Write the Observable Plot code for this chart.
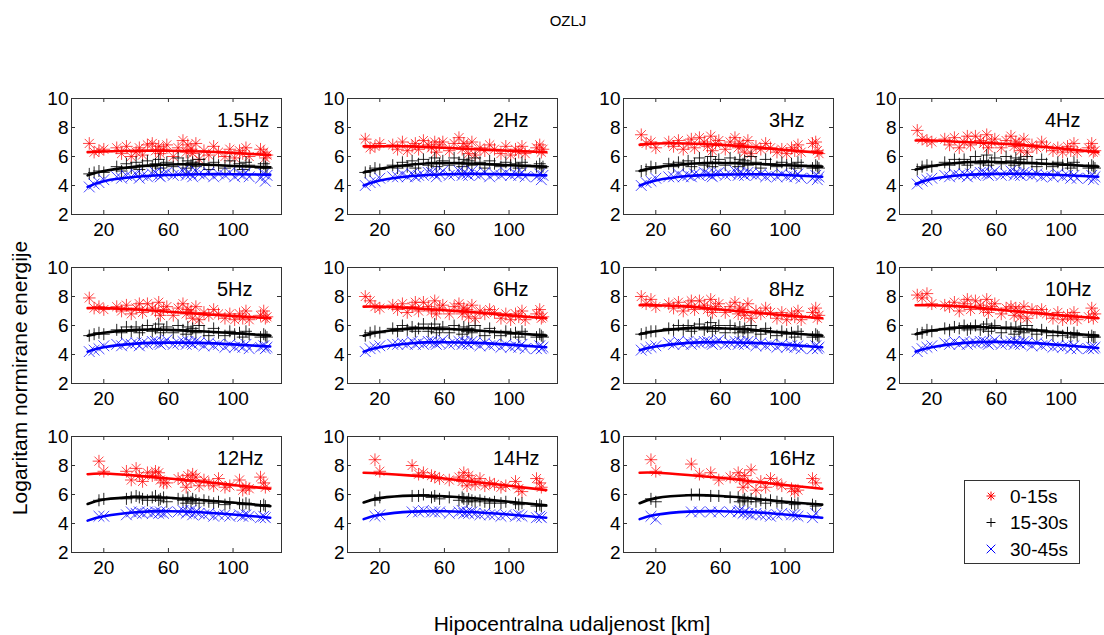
<!DOCTYPE html>
<html><head><meta charset="utf-8">
<script src="https://cdn.jsdelivr.net/npm/d3@7"></script>
<script src="https://cdn.jsdelivr.net/npm/@observablehq/plot@0.6"></script>
<style>
html,body{margin:0;padding:0;background:#fff;overflow:hidden}
#fig{position:relative;width:1104px;height:635px;overflow:hidden;font-family:Arial,"Liberation Sans",sans-serif;color:#000}
.abs{position:absolute;white-space:nowrap}
</style></head><body><div id="fig"></div>
<script>
const title = "OZLJ";
const xLabel = "Hipocentralna udaljenost [km]";
const yLabel = "Logaritam normirane energije";
const seriesNames = ["0-15s", "15-30s", "30-45s"];
const freqLabels = ["1.5Hz","2Hz","3Hz","4Hz","5Hz","6Hz","8Hz","10Hz","12Hz","14Hz","16Hz"];
const xTicks = [20, 60, 100];
const yTicks = [2, 4, 6, 8, 10];
// panel label anchor (data coordinates, left-aligned)
const labelX = 90, labelY = 8.5;

// hypocentral distances (km), shared by all panels
const dist = [11,14,17,20,28,31,34,37,40,42,44,47,50,52,54,55,57,59,63,66,69,71,72,74,75,77,79,82,85,88,91,95,98,101,104,106,108,110,117,119,120,121];

const red1p5 = [6.9,6.3,6.4,6.5,6.6,6.2,6.7,6.0,6.3,6.6,6.1,6.8,6.9,6.4,6.7,6.2,6.5,6.8,6.0,6.6,7.1,6.3,6.8,6.5,6.2,6.9,5.8,6.4,6.1,6.7,6.3,6.0,6.5,5.9,6.4,6.2,6.6,6.0,6.5,6.3,5.9,6.1];
const blk1p5 = [4.8,4.9,5.0,4.9,5.3,5.0,5.5,5.2,5.6,5.1,5.4,5.7,5.3,5.5,5.8,5.2,5.4,5.6,5.3,5.9,5.5,5.2,5.7,5.4,5.6,5.3,5.8,5.5,5.1,5.6,5.4,5.2,5.7,5.3,5.5,5.1,5.6,5.4,5.2,5.5,5.3,5.2];
const blu1p5 = [3.9,4.1,4.2,4.4,4.6,4.5,4.7,4.6,4.8,4.5,4.7,4.6,4.8,4.9,4.7,4.6,4.8,4.9,4.7,4.8,5.0,4.7,4.9,4.8,4.6,5.0,4.8,4.7,4.9,4.6,4.8,4.7,4.9,4.6,4.8,4.7,4.9,4.6,4.5,4.8,4.3,4.7];

const red2 = [7.2,6.6,6.7,6.9,6.8,6.5,7.0,6.4,6.7,6.9,6.5,7.1,6.8,6.6,7.0,6.3,6.8,7.0,6.4,6.9,7.3,6.5,6.9,6.7,6.2,7.0,6.1,6.6,6.4,6.8,6.5,6.2,6.7,6.1,6.5,6.3,6.7,6.2,6.6,6.8,6.3,6.5];
const blk2 = [4.9,5.0,5.2,5.1,5.4,5.2,5.6,5.3,5.7,5.2,5.5,5.8,5.4,5.6,5.9,5.3,5.5,5.7,5.4,5.9,5.6,5.3,5.8,5.5,5.7,5.4,5.9,5.6,5.2,5.7,5.5,5.3,5.6,5.4,5.5,5.2,5.6,5.4,5.3,5.5,5.2,5.3];
const blu2 = [4.0,4.2,4.3,4.5,4.6,4.6,4.8,4.6,4.8,4.6,4.7,4.7,4.9,4.9,4.8,4.6,4.8,5.0,4.7,4.8,5.0,4.7,4.9,4.8,4.7,5.0,4.8,4.7,4.9,4.6,4.8,4.7,4.9,4.7,4.8,4.7,4.9,4.6,4.6,4.8,4.4,4.7];

const red3 = [7.5,6.9,7.0,6.6,7.0,6.7,7.1,6.5,6.9,7.2,6.6,7.3,7.0,6.7,7.4,6.4,6.9,7.1,6.5,7.0,7.3,6.6,6.9,6.8,6.3,7.1,6.2,6.7,6.5,6.9,6.6,6.3,6.5,6.2,6.6,6.4,6.8,6.3,6.9,7.0,6.4,6.2];
const blk3 = [5.0,5.1,5.3,5.2,5.5,5.3,5.6,5.4,5.7,5.3,5.5,5.9,5.4,5.6,6.0,5.3,5.6,5.8,5.4,5.9,5.6,5.3,5.8,5.5,5.7,5.4,6.0,5.6,5.2,5.8,5.5,5.3,5.6,5.4,5.5,5.2,5.6,5.4,5.2,5.4,5.3,5.2];
const blu3 = [4.0,4.2,4.3,4.5,4.6,4.6,4.8,4.6,4.7,4.6,4.8,4.7,4.9,4.8,4.7,4.6,4.8,4.9,4.7,4.8,5.0,4.7,4.9,4.8,4.7,4.9,4.8,4.7,4.8,4.6,4.7,4.6,4.8,4.6,4.7,4.6,4.8,4.5,4.5,4.7,4.4,4.6];

const red4 = [7.8,7.2,7.1,7.0,7.2,6.8,7.3,6.6,7.0,7.4,6.8,7.4,7.1,6.9,7.5,6.6,7.0,7.2,6.6,7.1,7.4,6.7,7.0,6.9,6.4,7.2,6.3,6.8,6.6,7.0,6.7,6.4,6.6,6.3,6.7,6.4,6.9,6.3,6.6,6.9,6.3,6.4];
const blk4 = [5.1,5.3,5.4,5.3,5.6,5.4,5.8,5.5,5.8,5.4,5.6,6.0,5.5,5.7,6.1,5.4,5.6,5.9,5.5,6.0,5.7,5.4,5.9,5.6,5.8,5.5,6.0,5.6,5.3,5.8,5.5,5.3,5.6,5.4,5.5,5.2,5.6,5.4,5.2,5.4,5.3,5.2];
const blu4 = [4.1,4.3,4.4,4.5,4.7,4.6,4.8,4.7,4.8,4.6,4.8,4.7,4.9,4.9,4.8,4.7,4.8,5.0,4.7,4.8,5.0,4.7,4.9,4.8,4.7,4.9,4.8,4.7,4.8,4.6,4.7,4.6,4.8,4.6,4.7,4.5,4.7,4.5,4.5,4.7,4.4,4.6];

const red5 = [7.9,7.2,7.3,7.1,7.3,7.0,7.4,6.8,7.2,7.5,6.9,7.5,7.2,7.0,7.6,6.7,7.1,7.3,6.7,7.2,7.5,6.8,7.1,7.0,6.5,7.3,6.4,6.9,6.7,7.1,6.8,6.5,6.8,6.4,6.8,6.5,7.0,6.4,6.7,7.0,6.5,6.6];
const blk5 = [5.3,5.4,5.5,5.4,5.7,5.5,5.9,5.6,5.9,5.5,5.7,6.0,5.6,5.8,6.1,5.5,5.7,5.9,5.5,6.0,5.7,5.4,5.9,5.6,5.8,5.5,6.0,5.6,5.3,5.8,5.5,5.3,5.6,5.4,5.5,5.2,5.6,5.4,5.2,5.4,5.3,5.2];
const blu5 = [4.2,4.3,4.4,4.6,4.7,4.6,4.8,4.7,4.8,4.6,4.8,4.7,4.9,4.9,4.8,4.7,4.8,5.0,4.7,4.8,4.9,4.7,4.9,4.8,4.7,4.9,4.8,4.6,4.8,4.6,4.7,4.5,4.7,4.5,4.6,4.5,4.7,4.4,4.5,4.6,4.4,4.5];

const red6 = [8.0,7.7,7.3,7.2,7.4,7.1,7.5,6.9,7.3,7.6,7.0,7.6,7.3,7.0,7.7,6.8,7.2,7.4,6.8,7.3,7.5,6.8,7.2,7.1,6.6,7.4,6.5,7.0,6.8,7.1,6.9,6.5,6.8,6.4,6.8,6.6,7.0,6.4,6.8,7.1,6.5,6.6];
const blk6 = [5.3,5.5,5.6,5.5,5.8,5.6,6.0,5.7,5.9,5.6,5.8,6.1,5.6,5.8,6.1,5.5,5.7,5.9,5.5,6.0,5.7,5.4,5.9,5.6,5.8,5.5,6.0,5.6,5.3,5.8,5.5,5.3,5.6,5.4,5.5,5.2,5.6,5.4,5.2,5.4,5.3,5.2];
const blu6 = [4.2,4.4,4.5,4.6,4.7,4.7,4.8,4.7,4.9,4.7,4.8,4.7,4.9,4.9,4.8,4.7,4.8,5.0,4.7,4.8,4.9,4.7,4.9,4.8,4.7,4.9,4.8,4.6,4.8,4.6,4.7,4.5,4.7,4.5,4.6,4.5,4.7,4.4,4.4,4.6,4.4,4.5];

const red8 = [8.0,7.5,7.8,7.3,7.5,7.2,7.6,7.0,7.4,7.7,7.1,7.7,7.4,7.1,7.8,6.9,7.3,7.5,6.9,7.3,7.6,6.8,7.2,7.1,6.7,7.5,6.5,7.0,6.8,7.2,6.9,6.5,6.9,6.4,6.8,6.6,7.0,6.4,6.9,7.2,6.5,6.7];
const blk8 = [5.4,5.5,5.6,5.6,5.8,5.7,6.0,5.7,6.0,5.6,5.8,6.1,5.7,5.9,6.2,5.6,5.8,6.0,5.5,6.0,5.8,5.5,5.9,5.6,5.8,5.5,6.0,5.6,5.4,5.8,5.5,5.3,5.6,5.4,5.5,5.2,5.6,5.4,5.2,5.4,5.3,5.2];
const blu8 = [4.3,4.4,4.5,4.6,4.8,4.7,4.9,4.7,4.9,4.7,4.8,4.8,4.9,4.9,4.8,4.7,4.8,5.0,4.7,4.8,4.9,4.7,4.9,4.8,4.7,4.9,4.8,4.6,4.8,4.6,4.7,4.5,4.7,4.5,4.6,4.5,4.6,4.4,4.4,4.6,4.4,4.5];

const red10 = [8.1,7.9,8.2,7.5,7.4,7.3,7.6,7.0,7.5,7.8,7.1,7.7,7.4,7.1,7.8,6.9,7.3,7.5,6.8,7.2,7.3,6.7,7.2,7.0,6.6,7.3,6.5,7.1,6.9,7.1,6.8,6.5,6.9,6.4,6.7,6.5,6.9,6.4,6.6,7.2,6.5,6.8];
const blk10 = [5.4,5.5,5.7,5.6,5.8,5.7,5.9,5.8,6.0,5.7,5.8,6.0,5.7,5.9,6.1,5.6,5.8,6.0,5.5,5.9,5.8,5.4,5.9,5.6,5.8,5.5,6.0,5.6,5.4,5.7,5.5,5.3,5.6,5.3,5.5,5.2,5.5,5.3,5.2,5.3,5.2,5.2];
const blu10 = [4.2,4.4,4.5,4.6,4.8,4.7,4.9,4.7,4.9,4.7,4.8,4.8,4.9,4.9,4.8,4.7,4.8,5.0,4.7,4.8,4.9,4.7,4.9,4.8,4.7,4.9,4.8,4.6,4.8,4.6,4.7,4.5,4.6,4.5,4.6,4.4,4.6,4.4,4.4,4.5,4.4,4.5];

const red12 = [null,null,8.3,7.6,null,null,7.6,7.0,7.8,7.3,6.9,7.5,7.3,7.6,7.5,7.0,6.8,6.8,null,7.1,7.0,6.5,7.3,6.9,7.4,7.2,6.6,7.0,6.8,6.6,7.1,6.5,6.6,null,7.0,6.3,6.5,6.4,7.2,6.8,6.5,null];
const blk12 = [null,null,5.6,5.7,null,null,5.7,5.8,5.9,5.8,5.7,5.6,5.8,5.9,5.6,5.7,5.8,5.5,null,5.7,5.6,5.4,5.8,5.5,5.7,5.6,5.4,5.6,5.5,5.4,5.5,5.3,5.4,null,5.4,5.3,5.4,5.3,5.2,5.3,5.2,null];
const blu12 = [null,null,4.5,4.5,null,null,4.6,4.8,4.7,4.8,4.7,4.8,4.7,4.8,4.7,4.8,4.7,4.8,null,4.8,4.9,4.7,4.8,4.9,4.6,4.8,4.7,4.6,4.7,4.5,4.6,4.6,4.5,null,4.6,4.5,4.6,4.5,4.4,4.5,4.4,null];

const red14 = [null,null,8.4,7.6,null,null,null,null,8.0,null,7.4,7.5,null,7.3,7.2,null,7.1,null,7.0,null,7.2,6.9,7.5,6.6,7.3,7.0,6.7,7.1,6.6,6.8,6.7,6.5,6.6,null,6.9,6.4,6.2,null,7.1,6.8,6.5,null];
const blk14 = [null,null,5.6,5.8,null,null,null,null,5.9,null,5.9,6.0,null,5.8,5.9,null,5.7,null,5.8,null,5.6,5.8,5.7,5.5,5.7,5.6,5.5,5.6,5.5,5.4,5.5,5.4,5.5,null,5.4,5.3,5.4,null,5.2,5.3,5.2,null];
const blu14 = [null,null,4.5,4.6,null,null,null,null,4.8,null,4.8,4.9,null,4.8,4.8,null,4.8,null,4.7,null,4.8,4.9,4.7,4.8,4.7,4.8,4.7,4.6,4.7,4.6,4.6,4.5,4.6,null,4.5,4.6,4.5,null,4.4,4.5,4.4,null];

const red16 = [null,null,8.4,7.6,null,null,null,null,null,8.1,null,7.4,null,null,7.5,null,null,7.0,null,7.2,null,7.5,7.1,6.5,7.3,6.8,7.7,6.3,6.9,6.5,7.1,6.8,6.6,null,6.4,6.2,6.3,null,7.1,6.8,null,null];
const blk16 = [null,null,5.7,5.5,null,null,null,null,null,6.0,null,6.0,null,null,5.9,null,null,5.9,null,5.8,null,5.8,5.5,5.6,5.7,5.5,5.7,5.5,5.6,5.4,5.6,5.5,5.4,null,5.4,5.3,5.4,null,5.3,5.2,null,null];
const blu16 = [null,null,4.5,4.3,null,null,null,null,null,4.8,null,4.8,null,null,4.8,null,null,4.8,null,4.8,null,4.8,4.9,4.7,4.8,4.7,4.6,4.7,4.6,4.6,4.5,4.6,4.7,null,4.6,4.6,4.5,null,4.4,4.7,null,null];

// fitted curves: knots in distance, and values per panel
const curveX = [10, 20, 40, 60, 80, 100, 123];
const fitRed = [
  [6.3,6.35,6.4,6.4,6.35,6.25,6.1],
  [6.7,6.7,6.7,6.6,6.5,6.4,6.3],
  [6.8,6.9,6.9,6.8,6.65,6.45,6.25],
  [7.1,7.1,7.0,6.9,6.75,6.55,6.3],
  [7.2,7.2,7.1,6.95,6.8,6.65,6.5],
  [7.3,7.3,7.2,7.05,6.9,6.7,6.5],
  [7.4,7.4,7.3,7.1,6.9,6.7,6.5],
  [7.4,7.4,7.3,7.1,6.9,6.7,6.5],
  [7.4,7.45,7.3,7.1,6.9,6.65,6.4],
  [7.5,7.45,7.3,7.1,6.85,6.6,6.3],
  [7.5,7.5,7.35,7.15,6.9,6.65,6.4]
];
const fitBlk = [
  [4.7,5.0,5.3,5.45,5.45,5.35,5.25],
  [4.9,5.15,5.45,5.55,5.5,5.4,5.3],
  [5.0,5.25,5.5,5.55,5.5,5.4,5.3],
  [5.1,5.35,5.6,5.62,5.55,5.45,5.3],
  [5.3,5.5,5.7,5.7,5.6,5.48,5.3],
  [5.3,5.55,5.8,5.78,5.65,5.5,5.3],
  [5.4,5.6,5.82,5.8,5.7,5.5,5.3],
  [5.4,5.65,5.88,5.85,5.72,5.5,5.3],
  [5.35,5.65,5.82,5.78,5.62,5.45,5.2],
  [5.45,5.75,5.92,5.88,5.72,5.5,5.25],
  [5.4,5.75,5.95,5.9,5.72,5.5,5.3]
];
const fitBlu = [
  [3.9,4.3,4.6,4.72,4.78,4.78,4.75],
  [4.0,4.35,4.65,4.78,4.8,4.77,4.7],
  [4.0,4.35,4.65,4.75,4.78,4.72,4.6],
  [4.1,4.45,4.72,4.8,4.8,4.72,4.6],
  [4.2,4.5,4.75,4.82,4.8,4.7,4.55],
  [4.2,4.5,4.78,4.85,4.8,4.68,4.5],
  [4.3,4.55,4.8,4.85,4.8,4.68,4.5],
  [4.2,4.5,4.8,4.87,4.8,4.65,4.45],
  [4.2,4.5,4.78,4.85,4.78,4.62,4.4],
  [4.3,4.6,4.82,4.85,4.78,4.62,4.4],
  [4.3,4.6,4.82,4.85,4.78,4.62,4.4]
];

const redSets = [red1p5, red2, red3, red4, red5, red6, red8, red10, red12, red14, red16];
const blkSets = [blk1p5, blk2, blk3, blk4, blk5, blk6, blk8, blk10, blk12, blk14, blk16];
const bluSets = [blu1p5, blu2, blu3, blu4, blu5, blu6, blu8, blu10, blu12, blu14, blu16];

// marker shapes (MATLAB-like)
const star = {draw(c, s) { const r = Math.sqrt(s / Math.PI), q = r * 0.72;
  c.moveTo(-r, 0); c.lineTo(r, 0); c.moveTo(0, -r); c.lineTo(0, r);
  c.moveTo(-q, -q); c.lineTo(q, q); c.moveTo(-q, q); c.lineTo(q, -q); }};
const plus = {draw(c, s) { const r = Math.sqrt(s / Math.PI);
  c.moveTo(-r, 0); c.lineTo(r, 0); c.moveTo(0, -r); c.lineTo(0, r); }};
const cross = {draw(c, s) { const r = Math.sqrt(s / Math.PI) * 0.72;
  c.moveTo(-r, -r); c.lineTo(r, r); c.moveTo(-r, r); c.lineTo(r, -r); }};

const colors = ["#ff0000", "#000000", "#0000ff"];
const symbols = [star, plus, cross];
const sizes = [6.3, 6, 7.5];

const fig = document.getElementById("fig");
const colLeft = [71, 347, 623, 899];
const rowTop = [98, 267, 436];
const PW = 210, PH = 116;
const mL = 36, mR = 6, mT = 6, mB = 32;
const font = "Arial, 'Liberation Sans', sans-serif";

function pts(arr) { return dist.map((d, i) => ({x: d, y: arr[i]})).filter(p => p.y != null); }
function crv(arr) { return curveX.map((x, i) => ({x, y: arr[i]})); }

freqLabels.forEach((lab, k) => {
  const col = k % 4, row = Math.floor(k / 4);
  const sets = [redSets[k], blkSets[k], bluSets[k]];
  const fits = [fitRed[k], fitBlk[k], fitBlu[k]];
  const marks = [];
  sets.forEach((s, j) => marks.push(Plot.dot(pts(s), {x: "x", y: "y", symbol: symbols[j], r: sizes[j], stroke: colors[j], fill: "none", strokeWidth: 1, strokeOpacity: j === 1 ? 0.85 : 0.72})));
  fits.forEach((f, j) => marks.push(Plot.line(crv(f), {x: "x", y: "y", stroke: colors[j], strokeWidth: 2.6, curve: "natural"})));
  marks.push(Plot.frame({stroke: "#333", strokeWidth: 1}));
  marks.push(Plot.tickX(xTicks, {x: d => d, stroke: "#333", insetTop: PH - 4}));
  marks.push(Plot.tickX(xTicks, {x: d => d, stroke: "#333", insetBottom: PH - 4}));
  marks.push(Plot.tickY(yTicks, {y: d => d, stroke: "#333", insetRight: PW - 4}));
  marks.push(Plot.tickY(yTicks, {y: d => d, stroke: "#333", insetLeft: PW - 4}));
  marks.push(Plot.axisX(xTicks, {tickSize: 0, tickPadding: 8, label: null, fontSize: 19}));
  marks.push(Plot.axisY(yTicks, {tickSize: 0, tickPadding: 3, label: null, fontSize: 19}));
  marks.push(Plot.text([{x: labelX, y: labelY, t: lab}], {x: "x", y: "y", text: "t", textAnchor: "start", lineAnchor: "middle", fontSize: 20, fontWeight: "normal", fill: "#000"}));
  const svg = Plot.plot({
    width: PW + mL + mR, height: PH + mT + mB,
    marginLeft: mL, marginRight: mR, marginTop: mT, marginBottom: mB,
    x: {domain: [0, 130]}, y: {domain: [2, 10]},
    style: {fontFamily: font, fontSize: "19px", color: "#000", background: "transparent", overflow: "visible"},
    marks
  });
  svg.classList.add("abs");
  svg.style.left = (colLeft[col] - mL) + "px";
  svg.style.top = (rowTop[row] - mT) + "px";
  fig.appendChild(svg);
});

// title and axis labels
function addText(txt, css) { const d = document.createElement("div"); d.className = "abs"; d.textContent = txt; Object.assign(d.style, css); fig.appendChild(d); return d; }
addText(title, {left: "468px", width: "200px", textAlign: "center", top: "12px", fontSize: "15px"});
addText(xLabel, {left: "322px", width: "500px", textAlign: "center", top: "612px", fontSize: "21px"});
addText(yLabel, {left: "-180px", width: "400px", textAlign: "center", top: "366px", fontSize: "21px", transform: "rotate(-90deg)", transformOrigin: "50% 50%"});

// legend
const lg = d3.create("svg").attr("class", "abs").attr("width", 130).attr("height", 100)
  .style("left", "960px").style("top", "476px").style("font-family", font);
lg.append("rect").attr("x", 4.5).attr("y", 4.5).attr("width", 115).attr("height", 83).attr("fill", "#fff").attr("stroke", "#333");
seriesNames.forEach((n, j) => {
  const y = 20 + j * 26.5;
  lg.append("path").attr("d", d3.symbol(symbols[j], Math.PI * (j === 2 ? 36 : 20))()).attr("transform", `translate(31,${y})`).attr("fill", "none").attr("stroke", colors[j]).attr("stroke-width", 1);
  lg.append("text").attr("x", 50).attr("y", y).attr("dy", "0.35em").attr("font-size", 19).text(n);
});
fig.appendChild(lg.node());
</script></body></html>
